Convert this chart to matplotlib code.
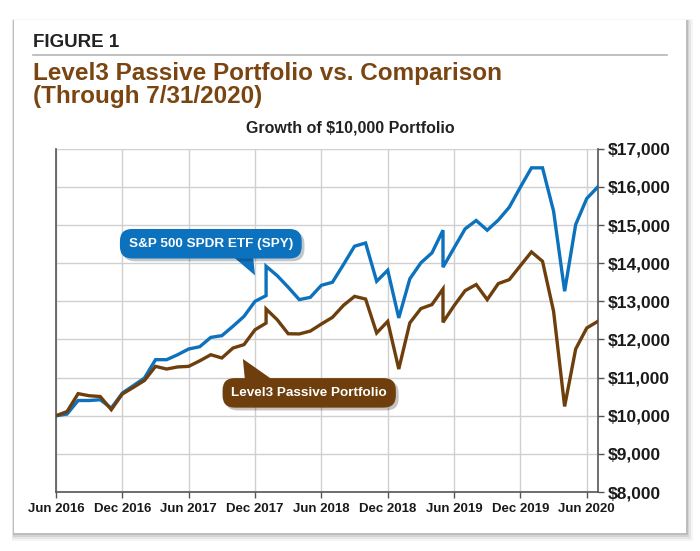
import numpy as np
import pandas as pd
import matplotlib
matplotlib.use('Agg')
import matplotlib.pyplot as plt
import matplotlib.patheffects as pe
from matplotlib.patches import FancyBboxPatch, Polygon

# 数据 (每月, 有两个月份出现两次)
dates = ['2016-06', '2016-07', '2016-08', '2016-09', '2016-10', '2016-11', '2016-12',
         '2017-01', '2017-02', '2017-03', '2017-04', '2017-05', '2017-06', '2017-07',
         '2017-08', '2017-09', '2017-10', '2017-11', '2017-12', '2018-01', '2018-01',
         '2018-02', '2018-03', '2018-04', '2018-05', '2018-06', '2018-07', '2018-08',
         '2018-09', '2018-10', '2018-11', '2018-12', '2019-01', '2019-02', '2019-03',
         '2019-04', '2019-05', '2019-05', '2019-06', '2019-07', '2019-08', '2019-09',
         '2019-10', '2019-11', '2019-12', '2020-01', '2020-02', '2020-03', '2020-04',
         '2020-05', '2020-06', '2020-07']

spy = [10000, 10045, 10400, 10400, 10420, 10200, 10595,
       10790, 10990, 11470, 11470, 11600, 11750, 11810,
       12055, 12100, 12345, 12605, 13000, 13150, 13920,
       13675, 13370, 13045, 13105, 13420, 13500, 13965,
       14445, 14530, 13525, 13815, 12565, 13590, 14010,
       14270, 14865, 13895, 14400, 14900, 15120, 14865,
       15130, 15470, 15995, 16500, 16500, 15365, 13265,
       15015, 15695, 16000]

level3 = [10000, 10110, 10580, 10525, 10505, 10160, 10570,
          10745, 10925, 11295, 11225, 11280, 11295, 11440,
          11600, 11515, 11775, 11865, 12255, 12430, 12800,
          12520, 12150, 12145, 12220, 12405, 12580, 12895,
          13130, 13060, 12170, 12475, 11225, 12435, 12810,
          12915, 13325, 12450, 12885, 13280, 13440, 13045,
          13465, 13570, 13935, 14295, 14050, 12740, 10245,
          11750, 12300, 12475]

tick_labels = ['Jun 2016', 'Dec 2016', 'Jun 2017', 'Dec 2017', 'Jun 2018',
               'Dec 2018', 'Jun 2019', 'Dec 2019', 'Jun 2020']
y_ticks = list(range(8000, 17001, 1000))

blue = '#0c72bd'
brown = '#6e3f0c'
plt.rcParams['font.family'] = ['Liberation Sans Narrow', 'Liberation Sans', 'DejaVu Sans']

# 月份转成从 2016-06 起的序号
d = pd.to_datetime(dates, format='%Y-%m')
x = (d.year - 2016) * 12 + d.month - 6

fig = plt.figure(figsize=(7, 5.51), dpi=100)
fig.patch.set_facecolor('white')

# 卡片和阴影 (偏右下)
for i, a in enumerate([0.04, 0.06, 0.08, 0.10]):
    off = (4 - i) * 0.0025
    sh = FancyBboxPatch((0.02 - off * 0.3, 0.033 - off * 1.4), 0.96 + off * 1.3, 0.93 + off * 1.6,
                        boxstyle='square,pad=0', transform=fig.transFigure,
                        facecolor='black', edgecolor='none', alpha=a, zorder=0)
    fig.patches.append(sh)
card = FancyBboxPatch((0.02, 0.033), 0.96, 0.93, boxstyle='square,pad=0',
                      transform=fig.transFigure, facecolor='white', edgecolor='none', zorder=1)
fig.patches.append(card)

fig.text(0.047, 0.922, 'FIGURE 1', fontsize=13.5, fontweight='bold', color='#222222',
         va='center', ha='left')
fig.add_artist(plt.Line2D([0.047, 0.953], [0.9, 0.9], transform=fig.transFigure,
                          color='#b5b5b5', lw=1.2))
fig.text(0.047, 0.867, 'Level3 Passive Portfolio vs. Comparison', fontsize=17.5,
         fontweight='bold', color='#7a4510', va='center', ha='left')
fig.text(0.047, 0.824, '(Through 7/31/2020)', fontsize=17.5,
         fontweight='bold', color='#7a4510', va='center', ha='left')
fig.text(0.5, 0.768, 'Growth of $10,000 Portfolio', fontsize=11.5,
         fontweight='bold', color='#222222', va='center', ha='center')

ax = fig.add_axes([0.08, 0.107, 0.774, 0.623])
ax.set_zorder(2)
ax.set_facecolor('white')

ax.plot(x, spy, color=blue, lw=2.4, solid_joinstyle='miter', zorder=3)
ax.plot(x, level3, color=brown, lw=2.4, solid_joinstyle='miter', zorder=3)

ax.set_xlim(0, 49)
ax.set_ylim(8000, 17000)
ax.set_xticks(range(0, 49, 6))
ax.set_xticklabels(tick_labels)
ax.set_yticks(y_ticks)
ax.set_yticklabels(['${:,}'.format(v) for v in y_ticks])
ax.yaxis.tick_right()
ax.grid(True, color='#d0d0d0', lw=1)
ax.set_axisbelow(True)
for s in ['left', 'bottom', 'right']:
    ax.spines[s].set_color('#555555')
    ax.spines[s].set_linewidth(1.2)
ax.spines['top'].set_visible(False)
ax.tick_params(axis='x', direction='out', length=4, width=1, color='#555555',
               labelsize=9.5, pad=4)
ax.tick_params(axis='y', direction='out', length=4, width=1, color='#555555',
               labelsize=12.5, pad=3)
for t in ax.get_xticklabels() + ax.get_yticklabels():
    t.set_fontweight('bold')
    t.set_color('#1a1a1a')


# 标注框: 圆角框 + 三角尾巴
def callout(text, center, tip, base, color):
    t = ax.text(center[0], center[1], text, fontsize=9.7, fontweight='bold', color='white',
                ha='center', va='center', zorder=6,
                bbox=dict(boxstyle='round,pad=0.65,rounding_size=0.9', fc=color, ec='none'))
    t.get_bbox_patch().set_path_effects([pe.SimplePatchShadow(offset=(2, -2), alpha=0.25),
                                         pe.Normal()])
    tail = Polygon([base[0], base[1], tip], closed=True, fc=color, ec='none', zorder=5)
    ax.add_patch(tail)


callout('S&P 500 SPDR ETF (SPY)', (14, 14510), (18.0, 13680),
        [(15.7, 14250), (17.8, 14250)], blue)
callout('Level3 Passive Portfolio', (22.9, 10600), (16.9, 11490),
        [(17.1, 10900), (19.8, 10900)], brown)

plt.savefig('out.png', dpi=100, facecolor='white')
